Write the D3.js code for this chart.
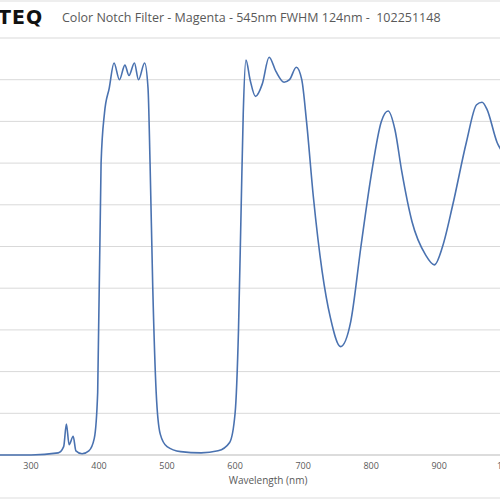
<!DOCTYPE html><html><head><script src="https://cdn.jsdelivr.net/npm/d3@7"></script>
<style>body{margin:0;background:#fff}</style></head><body><svg id="c" width="500" height="500"></svg>
<script>
const wavelength=[250,300,340,348,352,356,362,366,375,385,393,398,403,408,415,422,430,438,444,452,458,467,472,475,479,484,490,500,520,550,575,592,600,605,609,612,616,622,630,640,650,660,672,680,690,698,705,715,728,740,755,770,785,800,815,825,835,845,860,880,893,905,920,940,955,963,970,985,1000,1010];
const transmission=[0,0,0.5,2,7.4,2.5,4.5,1,0.3,1,4,15,70,82,88,94,90,93.5,91,94,90,94,88,70,40,15,5,2,0.8,0.5,1,3,10,30,60,82,94.7,90,86,89,95.4,92,89.4,90,93,90,80,62,44,33,26,32,50,67,80,82.5,78,68,56,48,45.6,50,60,75,84,84.6,83,75,70.7,66];
const xTicks=[300,400,500,600,700,800,900,1000];
const yTicks=[0,10,20,30,40,50,60,70,80,90,100];
const svg=d3.select("#c");
const x=d3.scaleLinear().domain([250,1010]).range([-3,514]);
const y=d3.scaleLinear().domain([0,100]).range([455,38]);
svg.append("line").attr("x1",0).attr("x2",500).attr("y1",1).attr("y2",1).attr("stroke","#ddd");
svg.append("line").attr("x1",0).attr("x2",500).attr("y1",498).attr("y2",498).attr("stroke","#ddd");
svg.append("g").selectAll("line").data(yTicks).join("line").attr("x1",0).attr("x2",500)
 .attr("y1",d=>y(d)).attr("y2",d=>y(d)).attr("stroke",d=>d===0?"#d0d0d0":"#d9d9d9").attr("stroke-width",d=>d===0?1.5:1);
svg.append("g").selectAll("text").data(xTicks).join("text").attr("x",d=>x(d)).attr("y",469)
 .attr("text-anchor","middle").attr("font-family","Open Sans, sans-serif").attr("font-size",9).attr("fill","#595959").text(d=>d);
svg.append("text").attr("x",268).attr("y",484).attr("text-anchor","middle").attr("font-family","Open Sans, sans-serif").attr("font-size",10).attr("fill","#595959").text("Wavelength (nm)");
svg.append("text").attr("x",-2).attr("y",24).attr("font-family","DejaVu Sans, sans-serif").attr("font-weight","bold").attr("font-size",19).attr("letter-spacing",1).attr("fill","#111").text("TEQ");
svg.append("text").attr("x",62).attr("y",22).attr("font-family","Open Sans, sans-serif").attr("font-size",12.5).attr("fill","#595959").attr("xml:space","preserve").text("Color Notch Filter - Magenta - 545nm FWHM 124nm -  102251148");
svg.append("path").datum(wavelength.map((w,i)=>[w,transmission[i]])).attr("fill","none").attr("stroke","#4a72b0").attr("stroke-width",1.6)
 .attr("d",d3.line().x(d=>x(d[0])).y(d=>y(d[1])).curve(d3.curveMonotoneX));
</script></body></html>
